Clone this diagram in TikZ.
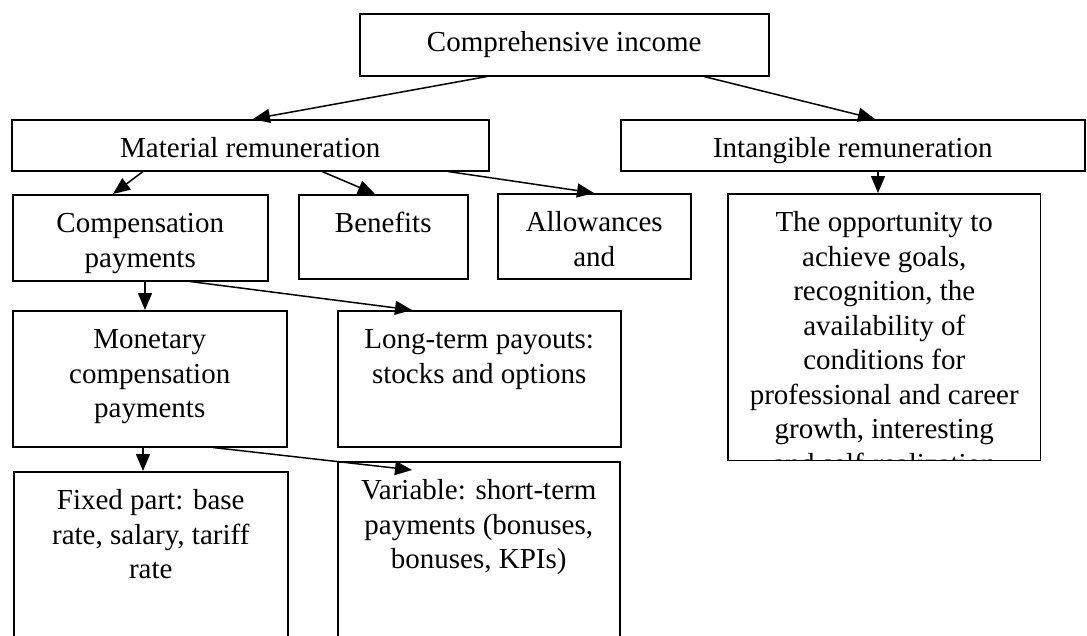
\documentclass[tikz,border=0pt]{standalone}
\usepackage{fontspec}
\setmainfont{Liberation Serif}
\usetikzlibrary{arrows.meta}
\tikzstyle{box}=[draw,
                 line width=1.5pt,
                 inner sep=0pt,
                 anchor=north west,
                 font=\fontsize{29}{34.5}\selectfont
                 ]
\tikzstyle{link}=[line width=1.5pt]
\newcommand{\boxtxt}[3]{\parbox[t][#2][t]{#1}{\centering\rule{0pt}{38pt}#3}}

\begin{document}
\begin{tikzpicture}[x=1pt,y=-1pt,>={Triangle[length=17pt,width=14pt]}]
\fill[white] (0,0) rectangle (1087,635);
\useasboundingbox (0,0) rectangle (1087,635);
\clip (0,0) rectangle (1087,635);
\node (income)     [box] at (359,13)  {\boxtxt{409pt}{62pt}{Comprehensive income}};
\node (material)   [box] at (11,119)  {\boxtxt{477pt}{51pt}{Material remuneration}};
\node (intangible) [box] at (620,119) {\boxtxt{464pt}{51pt}{Intangible remuneration}};
\node (compens)    [box] at (12,194)  {\boxtxt{255pt}{86pt}{Compensation\\payments}};
\node (benefits)   [box] at (298,194) {\boxtxt{169pt}{84pt}{Benefits}};
\node (allowance)  [box] at (497,193) {\boxtxt{193pt}{85pt}{Allowances\\and}};
\node (monetary)   [box] at (12,310)  {\boxtxt{274pt}{136pt}{Monetary\\compensation\\payments}};
\node (longterm)   [box] at (337,310) {\boxtxt{283pt}{136pt}{Long-term payouts:\\stocks and options}};
\node (fixed)      [box] at (13,471)  {\boxtxt{274pt}{200pt}{Fixed part: base\\rate, salary, tariff\\rate}};
\node (variable)   [box] at (337,461) {\boxtxt{282pt}{210pt}{Variable: short-term\\payments (bonuses,\\bonuses, KPIs)}};
\begin{scope}
\clip (726.2,192.2) rectangle (1040.8,460.8);
\node (goals)      [box] at (727,193) {\boxtxt{313pt}{267pt}{The opportunity to\\achieve goals,\\recognition, the\\availability of\\conditions for\\professional and career\\growth, interesting\\and self-realization}};
\end{scope}
 \path[->] ([xshift=128pt]income.south west) edge[link] ([xshift=242pt]material.north west);
 \path[->] ([xshift=345pt]income.south west) edge[link] ([xshift=255pt]intangible.north west);
 \path[->] ([xshift=132pt]material.south west) edge[link] ([xshift=101pt]compens.north west);
 \path[->] ([xshift=311pt]material.south west) edge[link] ([xshift=77pt]benefits.north west);
 \path[->] ([xshift=437pt]material.south west) edge[link] ([xshift=97pt]allowance.north west);
 \path[->] ([xshift=258pt]intangible.south west) edge[link] ([xshift=151pt]goals.north west);
 \path[->] ([xshift=133pt]compens.south west) edge[link] ([xshift=133pt]monetary.north west);
 \path[->] ([xshift=178pt]compens.south west) edge[link] ([xshift=75pt]longterm.north west);
 \path[->] ([xshift=131pt]monetary.south west) edge[link] ([xshift=130pt]fixed.north west);
 \path[->] ([xshift=201pt]monetary.south west) edge[link] ([xshift=75pt,yshift=-9pt]variable.north west);
\end{tikzpicture}
\end{document}
